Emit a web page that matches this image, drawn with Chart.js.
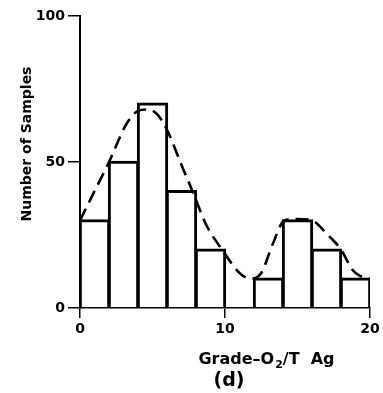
<!DOCTYPE html>
<html>
<head>
<meta charset="utf-8">
<script src="https://cdn.jsdelivr.net/npm/chart.js@4/dist/chart.umd.min.js"></script>
<style>
html,body{margin:0;padding:0;background:#fff;}
#wrap{width:383px;height:393px;position:relative;}
</style>
</head>
<body>
<div id="wrap"><canvas id="c" width="383" height="393"></canvas></div>
<script>
// Histogram bins (grade, oz/T Ag) and counts
const binStarts = [0, 2, 4, 6, 8, 10, 12, 14, 16, 18];
const binWidth = 2;
const counts = [30, 50, 70, 40, 20, 0, 10, 30, 20, 10];
// Fitted dashed curve
const curveX = [0, 1, 2, 3.2, 4, 4.6, 5.3, 6, 7, 7.8, 8.7, 9.8, 11, 11.8, 12.5, 13.3, 14.1, 15, 16, 17, 18, 18.8, 19.3, 20];
const curveY = [30, 40, 50, 63, 67.5, 68, 66.5, 61, 49, 39.5, 28.5, 20, 12, 10, 12, 22, 30, 30.5, 30, 25.5, 20, 13, 11, 10];
const xTicks = [0, 10, 20];
const yTicks = [0, 50, 100];
const yTitle = 'Number of Samples';
const xTitleParts = ['Grade\u2013O', '2', '/T  Ag'];
const panelLabel = '(d)';

const barData = binStarts.map((s, i) => ({x: s + binWidth / 2, y: counts[i]})).filter(p => p.y > 0);
const curveData = curveX.map((x, i) => ({x: x, y: curveY[i]}));

const textPlugin = {
  id: 'textPlugin',
  afterDraw(chart) {
    const ctx = chart.ctx;
    ctx.save();
    ctx.fillStyle = '#000';
    // y title
    ctx.save();
    ctx.translate(27, 144);
    ctx.rotate(-Math.PI / 2);
    ctx.font = 'bold 14px "DejaVu Sans"';
    ctx.textAlign = 'center';
    ctx.textBaseline = 'middle';
    ctx.fillText(yTitle, 0, 0);
    ctx.restore();
    // x title with subscript
    const mainFont = 'bold 16px "DejaVu Sans"';
    const subFont = 'bold 11px "DejaVu Sans"';
    ctx.textBaseline = 'alphabetic';
    ctx.textAlign = 'left';
    ctx.font = mainFont;
    const w0 = ctx.measureText(xTitleParts[0]).width;
    const w2 = ctx.measureText(xTitleParts[2]).width;
    ctx.font = subFont;
    const w1 = ctx.measureText(xTitleParts[1]).width;
    const total = w0 + w1 + w2;
    const x0 = 266 - total / 2;
    const base = 364;
    ctx.font = mainFont;
    ctx.fillText(xTitleParts[0], x0, base);
    ctx.font = subFont;
    ctx.fillText(xTitleParts[1], x0 + w0 + 1, base + 4);
    ctx.font = mainFont;
    ctx.fillText(xTitleParts[2], x0 + w0 + w1 + 1, base);
    // panel label
    ctx.font = 'bold 19px "DejaVu Sans"';
    ctx.textAlign = 'center';
    ctx.textBaseline = 'middle';
    ctx.fillText(panelLabel, 229, 381);
    ctx.restore();
  }
};

new Chart(document.getElementById('c'), {
  data: {
    datasets: [
      {
        type: 'bar',
        data: barData,
        backgroundColor: 'rgba(0,0,0,0)',
        borderColor: '#000',
        borderWidth: 0.6,
        inflateAmount: 1.2,
        barPercentage: 1,
        categoryPercentage: 1,
        order: 2
      },
      {
        type: 'line',
        data: curveData,
        borderColor: '#000',
        borderWidth: 2.6,
        borderDash: [13, 7],
        pointRadius: 0,
        fill: false,
        cubicInterpolationMode: 'monotone',
        order: 1
      }
    ]
  },
  options: {
    responsive: false,
    animation: false,
    layout: {padding: {top: 16, right: 13, left: 0, bottom: 0}},
    plugins: {legend: {display: false}, tooltip: {enabled: false}},
    scales: {
      x: {
        type: 'linear',
        min: 0, max: 20,
        offset: false,
        afterFit: s => { s.height = 85; },
        afterBuildTicks: s => { s.ticks = xTicks.map(v => ({value: v})); },
        grid: {display: true, drawOnChartArea: false, drawTicks: true, tickLength: 10, color: '#000', lineWidth: 1.5, offset: false},
        border: {display: true, color: '#000', width: 1.5},
        ticks: {color: '#000', font: {family: 'DejaVu Sans', size: 14, weight: 'bold'}, padding: 3, maxRotation: 0}
      },
      y: {
        type: 'linear',
        min: 0, max: 100,
        afterFit: s => { s.width = 80; },
        afterBuildTicks: s => { s.ticks = yTicks.map(v => ({value: v})); },
        grid: {display: true, drawOnChartArea: false, drawTicks: true, tickLength: 12, color: '#000', lineWidth: 1.5},
        border: {display: true, color: '#000', width: 2},
        ticks: {color: '#000', font: {family: 'DejaVu Sans', size: 14, weight: 'bold'}, padding: 3}
      }
    }
  },
  plugins: [textPlugin]
});
</script>
</body>
</html>
